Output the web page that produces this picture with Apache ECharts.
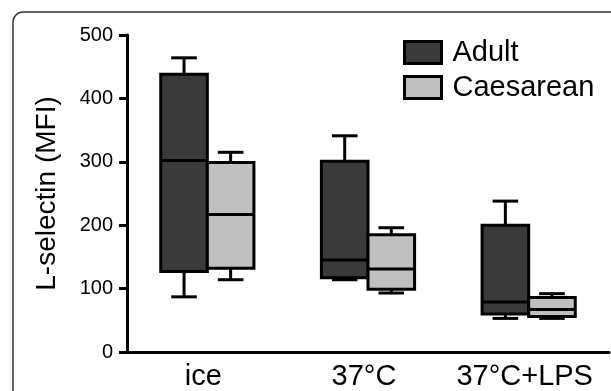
<!DOCTYPE html>
<html>
<head>
<meta charset="utf-8">
<script src="https://cdn.jsdelivr.net/npm/echarts@6/dist/echarts.min.js"></script>
<style>
  html, body { margin: 0; padding: 0; background: #fff; }
  #chart { width: 611px; height: 391px; }
</style>
</head>
<body>
<div id="chart"></div>
<script>
// conditions on the x axis
var categories = ['ice', '37°C', '37°C+LPS'];
var yTicks = [0, 100, 200, 300, 400, 500];

// [min, q1, median, q3, max] per condition
var adult = [
    [87, 127, 302, 438, 464],
    [114, 117, 145, 301, 341],
    [53, 60, 79, 200, 238]
];
var caesarean = [
    [114, 132, 217, 299, 315],
    [93, 99, 131, 185, 196],
    [53, 56, 67, 86, 92]
];

var FONT = 'Liberation Sans, Arial, Helvetica, sans-serif';

function toItems(arr) {
    return arr.map(function (d, i) { return [i].concat(d); });
}

function makeRender(side, fill) {
    return function (params, api) {
        var cat = api.value(0);
        var band = api.size([1, 0])[0];
        var w = band * 0.29;
        var cx = api.coord([cat, 0])[0] + side * w / 2;
        var yMin = api.coord([cat, api.value(1)])[1];
        var yQ1 = api.coord([cat, api.value(2)])[1];
        var yMed = api.coord([cat, api.value(3)])[1];
        var yQ3 = api.coord([cat, api.value(4)])[1];
        var yMax = api.coord([cat, api.value(5)])[1];
        var cap = w * 0.55;
        var line = {stroke: '#000', lineWidth: 3};
        return {
            type: 'group',
            children: [
                {type: 'line', shape: {x1: cx, y1: yQ3, x2: cx, y2: yMax}, style: line},
                {type: 'line', shape: {x1: cx - cap / 2, y1: yMax, x2: cx + cap / 2, y2: yMax}, style: line},
                {type: 'line', shape: {x1: cx, y1: yQ1, x2: cx, y2: yMin}, style: line},
                {type: 'line', shape: {x1: cx - cap / 2, y1: yMin, x2: cx + cap / 2, y2: yMin}, style: line},
                {type: 'rect', shape: {x: cx - w / 2, y: yQ3, width: w, height: yQ1 - yQ3},
                    style: {fill: fill, stroke: '#000', lineWidth: 3}},
                {type: 'line', shape: {x1: cx - w / 2, y1: yMed, x2: cx + w / 2, y2: yMed}, style: line}
            ]
        };
    };
}

var chart = echarts.init(document.getElementById('chart'));

var option = {
    animation: false,
    textStyle: {fontFamily: FONT},
    graphic: [{
        type: 'rect',
        shape: {x: 13, y: 12, width: 700, height: 500, r: 10},
        style: {fill: 'none', stroke: '#333', lineWidth: 1.5},
        silent: true
    }],
    legend: {
        orient: 'vertical',
        left: 398,
        top: 33,
        itemWidth: 37,
        itemHeight: 22,
        itemGap: 6,
        textStyle: {fontSize: 29, color: '#000', fontFamily: FONT, padding: [0, 0, 0, 6]},
        data: [
            {name: 'Adult', icon: 'rect', itemStyle: {color: '#3a3a3a', borderColor: '#000', borderWidth: 3}},
            {name: 'Caesarean', icon: 'rect', itemStyle: {color: '#c0c0c0', borderColor: '#000', borderWidth: 3}}
        ]
    },
    grid: {left: 127, right: 2, top: 35, bottom: 34},
    xAxis: {
        type: 'category',
        data: categories,
        axisLine: {lineStyle: {color: '#000', width: 3}},
        axisTick: {show: false},
        axisLabel: {interval: 0, fontSize: 29, color: '#000', fontFamily: FONT, margin: 10, padding: [0, 8, 0, 0]}
    },
    yAxis: {
        type: 'value',
        min: yTicks[0],
        max: yTicks[yTicks.length - 1],
        interval: 100,
        name: 'L-selectin (MFI)',
        nameLocation: 'middle',
        nameGap: 66,
        nameTextStyle: {fontSize: 28, color: '#000', fontFamily: FONT},
        axisLine: {show: true, lineStyle: {color: '#000', width: 3}},
        axisTick: {show: true, length: 8, lineStyle: {color: '#000', width: 3}},
        axisLabel: {fontSize: 20, color: '#000', fontFamily: FONT, margin: 14},
        splitLine: {show: false}
    },
    series: [
        {
            name: 'Adult',
            type: 'custom',
            renderItem: makeRender(-1, '#3a3a3a'),
            itemStyle: {color: '#3a3a3a'},
            encode: {x: 0, y: [1, 2, 3, 4, 5]},
            data: toItems(adult)
        },
        {
            name: 'Caesarean',
            type: 'custom',
            renderItem: makeRender(1, '#c0c0c0'),
            itemStyle: {color: '#c0c0c0'},
            encode: {x: 0, y: [1, 2, 3, 4, 5]},
            data: toItems(caesarean)
        }
    ]
};

chart.setOption(option);
window.addEventListener('resize', function () {
    chart.resize();
});
</script>
</body>
</html>
